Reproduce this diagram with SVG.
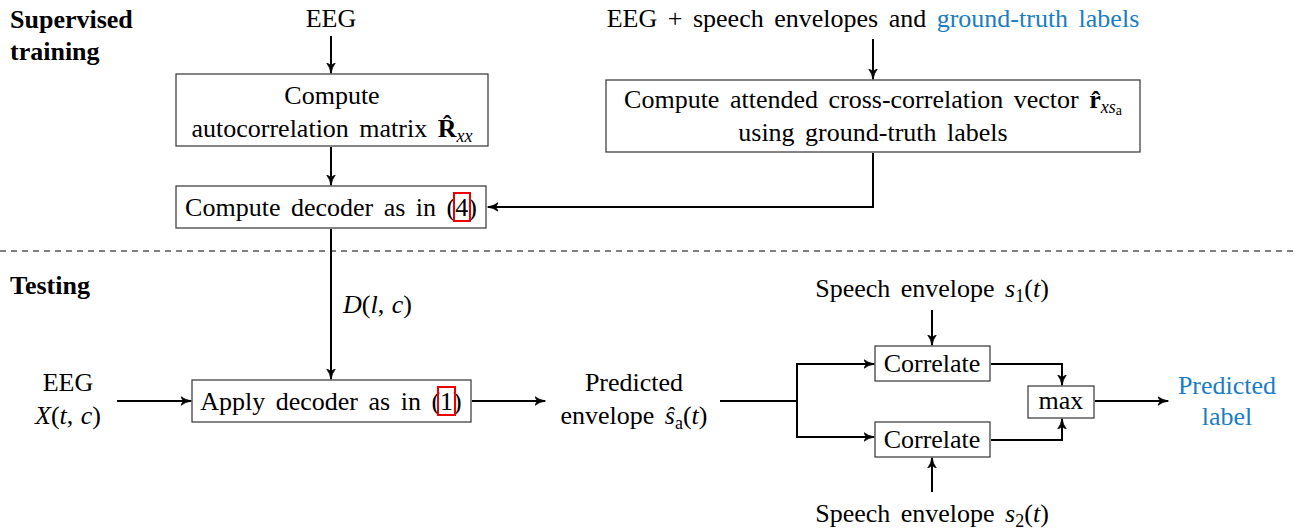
<svg xmlns="http://www.w3.org/2000/svg" width="1294" height="529" viewBox="0 0 1294 529">
<style>
text{font-family:"Liberation Serif","Times New Roman",serif;font-size:26px;fill:#000;word-spacing:4px}
.m{word-spacing:1px}
.b{font-weight:bold}
.c{text-anchor:middle}
.i{font-style:italic}
.blue{fill:#1a7dc4}
.box{fill:#fff;stroke:#333;stroke-width:1.2}
.ref{fill:none;stroke:#e00;stroke-width:2}
.ln{fill:none;stroke:#000;stroke-width:2}
.sub{font-size:18px}
.sub2{font-size:14px}
</style>
<defs>
<marker id="ah" viewBox="0 0 10 10" refX="9.5" refY="5" markerWidth="11" markerHeight="11" markerUnits="userSpaceOnUse" orient="auto">
<path d="M0,0.8 Q4,4 10,5 Q4,6 0,9.2 L2.5,5 Z" fill="#000" stroke="#000" stroke-width="0.6" stroke-linejoin="round"/>
</marker>
</defs>
<text class="b" x="10" y="28">Supervised</text>
<text class="b" x="10" y="60">training</text>
<text class="b" x="10" y="294">Testing</text>
<line x1="0" y1="251" x2="1294" y2="251" stroke="#000" stroke-width="1" stroke-dasharray="6,5"/>
<g id="connectors">
<line class="ln" x1="331" y1="36" x2="331" y2="73" marker-end="url(#ah)"/>
<line class="ln" x1="331" y1="147" x2="331" y2="185" marker-end="url(#ah)"/>
<line class="ln" x1="873" y1="39" x2="873" y2="79" marker-end="url(#ah)"/>
<polyline class="ln" points="873,153 873,207 488,207" marker-end="url(#ah)"/>
<line class="ln" x1="331" y1="229" x2="331" y2="379" marker-end="url(#ah)"/>
<line class="ln" x1="117" y1="401" x2="191" y2="401" marker-end="url(#ah)"/>
<line class="ln" x1="472" y1="401" x2="545" y2="401" marker-end="url(#ah)"/>
<line class="ln" x1="720" y1="401" x2="797" y2="401"/>
<polyline class="ln" points="873,364 797,364 797,437 873,437"/>
<line class="ln" x1="860" y1="364" x2="874" y2="364" marker-end="url(#ah)"/>
<line class="ln" x1="860" y1="437" x2="874" y2="437" marker-end="url(#ah)"/>
<line class="ln" x1="932" y1="310" x2="932" y2="345" marker-end="url(#ah)"/>
<line class="ln" x1="932" y1="492" x2="932" y2="458" marker-end="url(#ah)"/>
<polyline class="ln" points="991,364 1062,364 1062,385" marker-end="url(#ah)"/>
<polyline class="ln" points="991,440 1062,440 1062,419" marker-end="url(#ah)"/>
<line class="ln" x1="1095" y1="401" x2="1168" y2="401" marker-end="url(#ah)"/>
</g>
<g id="eeg-top"><text class="c" x="331" y="27">EEG</text></g>
<g id="autocorr">
<rect class="box" x="176" y="74" width="312" height="72"/>
<text class="c" x="332" y="104">Compute</text>
<text class="c" x="332" y="137">autocorrelation matrix <tspan class="b">R̂</tspan><tspan class="i sub" dy="5">xx</tspan></text>
</g>
<g id="decoder">
<rect class="box" x="176" y="186" width="310" height="42"/>
<text class="c" x="331" y="216">Compute decoder as in (4)</text>
<rect class="ref" x="454" y="193" width="16" height="28"/>
</g>
<g id="top-input"><text class="c" x="873" y="27">EEG + speech envelopes and <tspan class="blue">ground-truth labels</tspan></text></g>
<g id="crosscorr">
<rect class="box" x="606" y="80" width="534" height="72"/>
<text class="c" x="873" y="108">Compute attended cross-correlation vector <tspan class="b">r̂</tspan><tspan class="i sub" dy="5">xs</tspan><tspan class="sub2" dy="2">a</tspan></text>
<text class="c" x="873" y="141">using ground-truth labels</text>
</g>
<g id="dlabel"><text class="m" x="343" y="313"><tspan class="i">D</tspan>(<tspan class="i">l</tspan>, <tspan class="i">c</tspan>)</text></g>
<g id="eeg-test">
<text class="c" x="68" y="391">EEG</text>
<text class="c m" x="68" y="424"><tspan class="i">X</tspan>(<tspan class="i">t</tspan>, <tspan class="i">c</tspan>)</text>
</g>
<g id="apply">
<rect class="box" x="192" y="380" width="279" height="42"/>
<text class="c" x="331" y="410">Apply decoder as in (1)</text>
<rect class="ref" x="438" y="387" width="17" height="28"/>
</g>
<g id="predicted">
<text class="c" x="634" y="391">Predicted</text>
<text class="c" x="634" y="424">envelope <tspan class="i">ŝ</tspan><tspan class="sub" dy="5">a</tspan><tspan dy="-5">(</tspan><tspan class="i">t</tspan>)</text>
</g>
<g id="s1"><text class="c" x="932" y="297">Speech envelope <tspan class="i">s</tspan><tspan class="sub" dy="5">1</tspan><tspan dy="-5">(</tspan><tspan class="i">t</tspan>)</text></g>
<g id="corr1">
<rect class="box" x="875" y="346" width="115" height="35"/>
<text class="c" x="932" y="372">Correlate</text>
</g>
<g id="corr2">
<rect class="box" x="875" y="422" width="115" height="35"/>
<text class="c" x="932" y="448">Correlate</text>
</g>
<g id="s2"><text class="c" x="932" y="522">Speech envelope <tspan class="i">s</tspan><tspan class="sub" dy="5">2</tspan><tspan dy="-5">(</tspan><tspan class="i">t</tspan>)</text></g>
<g id="max">
<rect class="box" x="1028" y="386" width="66" height="32"/>
<text class="c" x="1061" y="409">max</text>
</g>
<g id="label-out">
<text class="c blue" x="1227" y="394">Predicted</text>
<text class="c blue" x="1227" y="425">label</text>
</g>
</svg>
